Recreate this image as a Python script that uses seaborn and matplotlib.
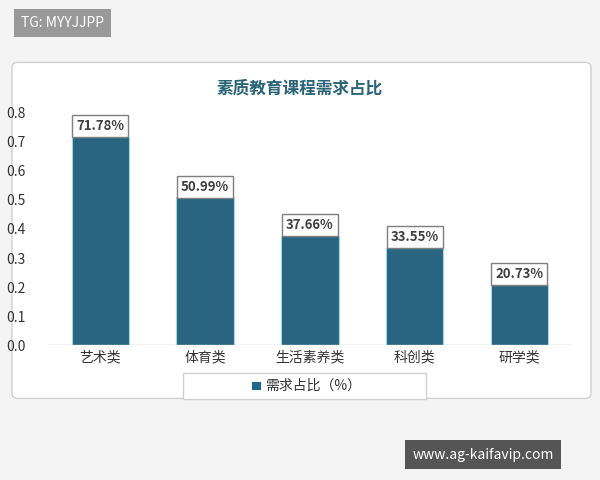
import matplotlib.pyplot as plt
import seaborn as sns
from matplotlib.patches import FancyBboxPatch, Rectangle

categories = ["艺术类", "体育类", "生活素养类", "科创类", "研学类"]
values = [0.7178, 0.5099, 0.3766, 0.3355, 0.2073]
labels = ["71.78%", "50.99%", "37.66%", "33.55%", "20.73%"]

sns.set_style("white")
plt.rcParams['font.family'] = ['Noto Sans CJK SC', 'DejaVu Sans']
plt.rcParams['hatch.color'] = '#d9d9d9'
plt.rcParams['hatch.linewidth'] = 0.6

fig = plt.figure(figsize=(6, 4.8), dpi=100)
fig.patch.set_facecolor('#f4f4f4')

# white card behind the axes
card = FancyBboxPatch((0.02, 0.17), 0.965, 0.70, boxstyle="round,pad=0,rounding_size=0.01",
                      transform=fig.transFigure, facecolor='white', edgecolor='#d0d0d0', lw=1,
                      zorder=-10)
fig.patches.append(card)

ax = fig.add_axes([0.08, 0.281, 0.873, 0.484])
ax.patch.set_alpha(0)
ax.add_patch(Rectangle((0, 0), 1, 1, transform=ax.transAxes, facecolor='white',
                       edgecolor='none', hatch='//////', zorder=0))
sns.barplot(x=categories, y=values, color='#1b6a8e', width=0.55, ax=ax, zorder=2,
            edgecolor='#9fd3e6', linewidth=0.8)
ax.set_ylim(0, 0.8)
ax.set_yticks([0, 0.1, 0.2, 0.3, 0.4, 0.5, 0.6, 0.7, 0.8])
ax.set_yticklabels([f"{v:.1f}" for v in ax.get_yticks()])
ax.tick_params(axis='both', length=0, labelsize=10, colors='#333333')
ax.tick_params(axis='y', pad=16)
for s in ax.spines.values():
    s.set_visible(False)
ax.axhline(0, color='#bfbfbf', lw=1, zorder=3)

for i, (v, t) in enumerate(zip(values, labels)):
    ax.text(i, v + 0.012, t, ha='center', va='bottom', fontsize=9.5, fontweight='bold',
            color='#404040', zorder=4,
            bbox=dict(boxstyle='square,pad=0.3', facecolor='white', edgecolor='#7f7f7f', lw=1))

fig.text(0.5, 0.815, "素质教育课程需求占比", ha='center', va='center', fontsize=12,
         fontweight='bold', color='#2a6478')

# legend box
fig.patches.append(Rectangle((0.305, 0.168), 0.405, 0.055, transform=fig.transFigure,
                             facecolor='white', edgecolor='#d0d0d0', lw=1))
fig.patches.append(Rectangle((0.42, 0.188), 0.015, 0.017, transform=fig.transFigure,
                             facecolor='#1b6a8e', edgecolor='none'))
fig.text(0.442, 0.196, "需求占比（%）", ha='left', va='center', fontsize=10, color='#333333')

# overlays
fig.text(0.035, 0.953, "TG: MYYJJPP", ha='left', va='center', fontsize=10, color='white',
         bbox=dict(boxstyle='square,pad=0.5', facecolor='#999999', edgecolor='none'))
fig.text(0.805, 0.053, "www.ag-kaifavip.com", ha='center', va='center', fontsize=10, color='white',
         bbox=dict(boxstyle='square,pad=0.55', facecolor='#555555', edgecolor='none'))

fig.savefig("out.png", dpi=100, facecolor=fig.get_facecolor())
